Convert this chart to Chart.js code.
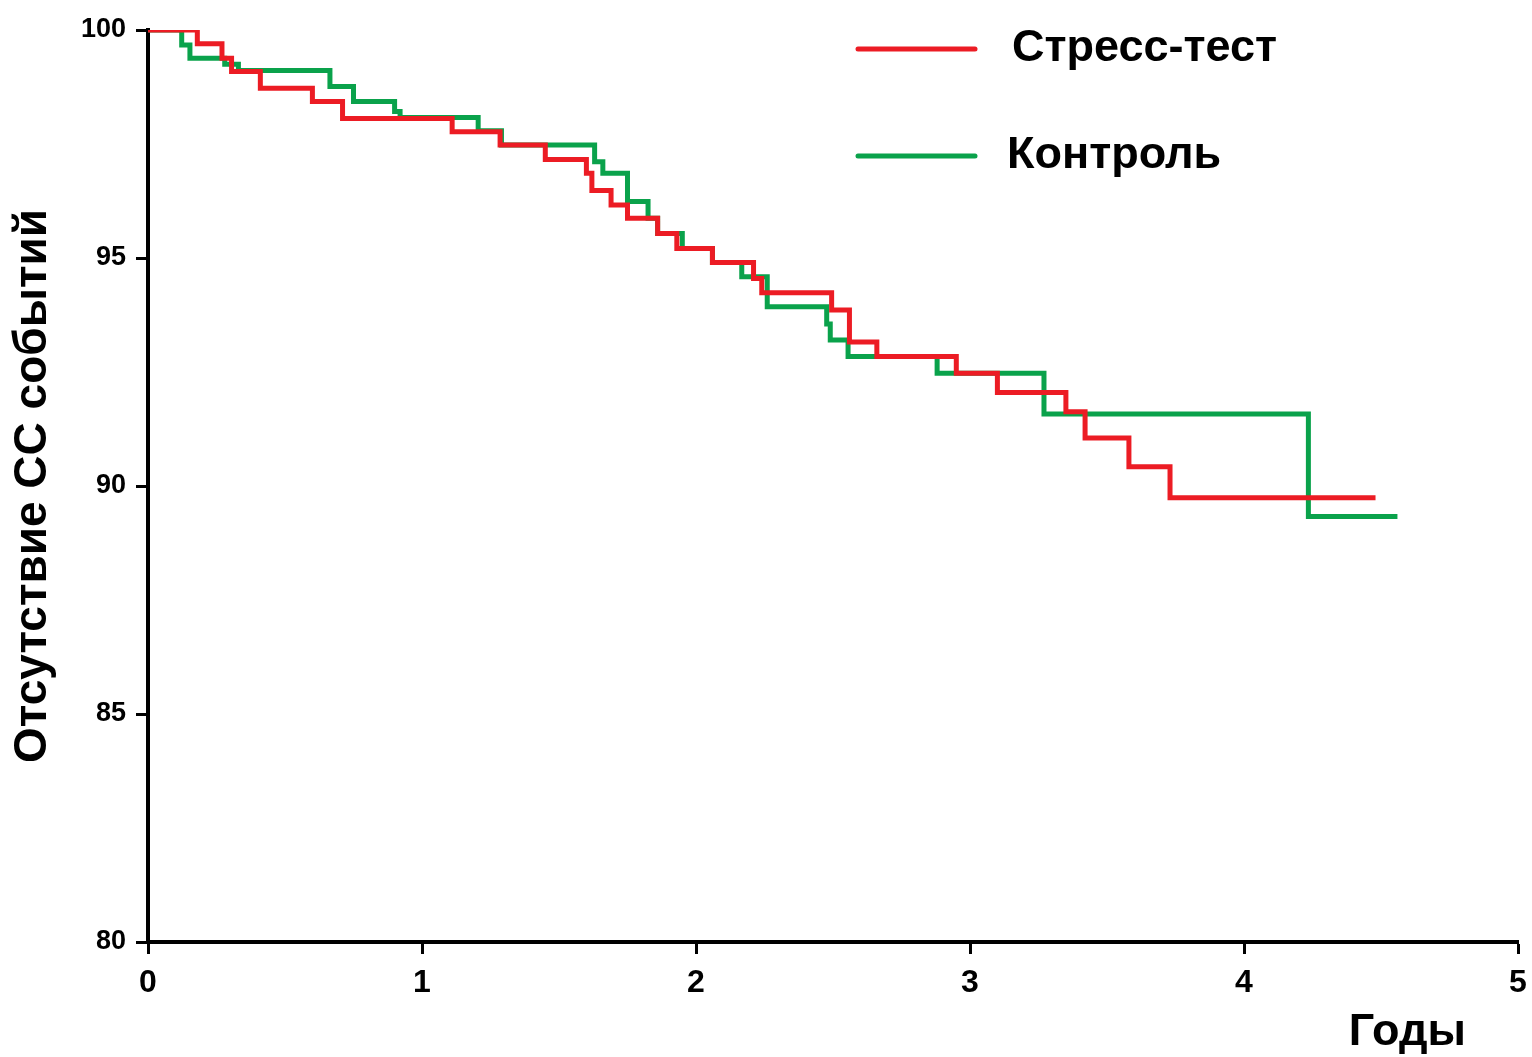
<!DOCTYPE html>
<html>
<head>
<meta charset="utf-8">
<script src="https://cdn.jsdelivr.net/npm/chart.js@4"></script>
<style>
html, body { margin: 0; padding: 0; background: #fff; }
#wrap { width: 1532px; height: 1057px; }
</style>
</head>
<body>
<div id="wrap"><canvas id="kmChart" width="1532" height="1057"></canvas></div>
<script>
// Kaplan-Meier steps (time in years, % free of events)
var stressTimes = [0, 0.18, 0.27, 0.305, 0.41, 0.60, 0.71, 1.11, 1.285, 1.45, 1.60, 1.62, 1.69, 1.75, 1.86, 1.93, 2.06, 2.21, 2.24, 2.495, 2.56, 2.66, 2.95, 3.10, 3.35, 3.42, 3.58, 3.73, 4.48];
var stressFree = [100, 99.70, 99.38, 99.09, 98.72, 98.43, 98.06, 97.77, 97.48, 97.16, 96.86, 96.48, 96.16, 95.87, 95.54, 95.21, 94.90, 94.55, 94.24, 93.86, 93.16, 92.84, 92.47, 92.05, 91.63, 91.05, 90.42, 89.74, 89.74];

var controlTimes = [0, 0.123, 0.153, 0.28, 0.33, 0.664, 0.75, 0.90, 0.92, 1.205, 1.29, 1.63, 1.66, 1.75, 1.825, 1.86, 1.95, 2.06, 2.167, 2.26, 2.477, 2.49, 2.555, 2.88, 3.27, 4.235, 4.56];
var controlFree = [100, 99.67, 99.38, 99.25, 99.11, 98.76, 98.43, 98.21, 98.08, 97.79, 97.48, 97.11, 96.86, 96.24, 95.87, 95.54, 95.21, 94.90, 94.59, 93.93, 93.55, 93.20, 92.84, 92.47, 91.58, 89.33, 89.33];

var seriesLabels = ["Стресс-тест", "Контроль"];
var seriesColors = ["#ec1c24", "#0aa24b"];
var xTicks = [0, 1, 2, 3, 4, 5];
var yTicks = [80, 85, 90, 95, 100];
var xTitle = "Годы";
var yTitle = "Отсутствие СС событий";

var fontFamily = "'Liberation Sans', Arial, sans-serif";

function toPoints(times, vals) {
    return times.map(function (t, i) { return { x: t, y: vals[i] }; });
}

// legend stacked at the top right, like the original
var legendBox = {
    id: 'legendBox',
    afterDatasetsDraw: function (chart) {
        var ctx = chart.ctx;
        var rows = [49, 156];
        var textX = [1012, 1007];
        ctx.save();
        chart.data.datasets.forEach(function (ds, i) {
            var y = rows[i];
            ctx.strokeStyle = ds.borderColor;
            ctx.lineWidth = 5;
            ctx.lineCap = 'round';
            ctx.beginPath();
            ctx.moveTo(858, y);
            ctx.lineTo(975, y);
            ctx.stroke();
            ctx.fillStyle = '#000';
            ctx.font = 'bold 45px ' + fontFamily;
            ctx.textBaseline = 'middle';
            ctx.textAlign = 'left';
            ctx.fillText(ds.label, textX[i], y);
        });
        ctx.restore();
    }
};

// x title sits right-aligned under the axis end, a bit short of it
var xTitleDraw = {
    id: 'xTitleDraw',
    afterDraw: function (chart) {
        var ctx = chart.ctx;
        var x = chart.scales.x.getPixelForValue(4.81);
        ctx.save();
        ctx.fillStyle = '#000';
        ctx.font = 'bold 45px ' + fontFamily;
        ctx.textAlign = 'right';
        ctx.textBaseline = 'alphabetic';
        ctx.fillText(xTitle, x, 1045);
        ctx.restore();
    }
};

new Chart(document.getElementById('kmChart'), {
    type: 'line',
    data: {
        datasets: [
            {
                label: seriesLabels[0],
                data: toPoints(stressTimes, stressFree),
                borderColor: seriesColors[0],
                borderWidth: 5,
                stepped: 'before',
                pointRadius: 0,
                fill: false
            },
            {
                label: seriesLabels[1],
                data: toPoints(controlTimes, controlFree),
                borderColor: seriesColors[1],
                borderWidth: 5,
                stepped: 'before',
                pointRadius: 0,
                fill: false
            }
        ]
    },
    options: {
        responsive: false,
        animation: false,
        layout: { padding: { top: 30, right: 14, left: 0, bottom: 0 } },
        plugins: {
            legend: { display: false },
            tooltip: { enabled: false }
        },
        scales: {
            x: {
                type: 'linear',
                min: 0,
                max: 5,
                afterBuildTicks: function (scale) {
                    scale.ticks = xTicks.map(function (v) { return { value: v }; });
                },
                afterFit: function (scale) {
                    scale.height = 115;
                    scale.paddingRight = 0;
                    scale.paddingLeft = 0;
                },
                grid: {
                    drawOnChartArea: false,
                    drawTicks: true,
                    tickLength: 12,
                    tickWidth: 3,
                    tickColor: '#000'
                },
                border: { display: true, color: '#000', width: 4 },
                ticks: {
                    color: '#000',
                    padding: 10,
                    maxRotation: 0,
                    font: { family: fontFamily, size: 32, weight: 'bold' }
                }
            },
            y: {
                type: 'linear',
                min: 80,
                max: 100,
                afterBuildTicks: function (scale) {
                    scale.ticks = yTicks.map(function (v) { return { value: v }; });
                },
                afterFit: function (scale) {
                    scale.width = 148;
                    scale.paddingTop = 0;
                    scale.paddingBottom = 0;
                },
                grid: {
                    drawOnChartArea: false,
                    drawTicks: true,
                    tickLength: 12,
                    tickWidth: 3,
                    tickColor: '#000'
                },
                border: { display: true, color: '#000', width: 4 },
                ticks: {
                    color: '#000',
                    padding: 10,
                    font: { family: fontFamily, size: 27, weight: 'bold' }
                },
                title: {
                    display: true,
                    text: yTitle,
                    color: '#000',
                    padding: { top: 6, bottom: 0 },
                    font: { family: fontFamily, size: 46, weight: 'bold' }
                }
            }
        }
    },
    plugins: [legendBox, xTitleDraw]
});
</script>
</body>
</html>
